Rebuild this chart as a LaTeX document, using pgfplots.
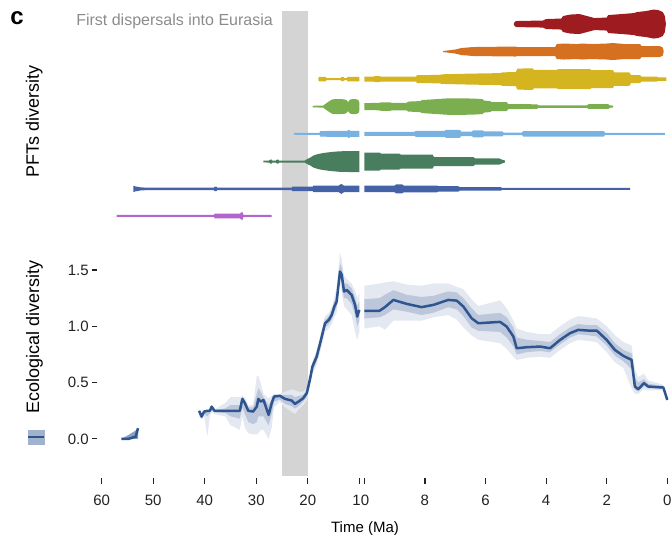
\documentclass[border=0pt]{standalone}
\usepackage{fontspec}
\setmainfont{Liberation Sans}
\usepackage{pgfplots}
\pgfplotsset{compat=1.18}
\usepackage{pgfplotstable}
\usepgfplotslibrary{fillbetween}

\definecolor{cRD}{HTML}{9E1C1F}
\definecolor{cOR}{HTML}{D4701F}
\definecolor{cYE}{HTML}{D4B520}
\definecolor{cLG}{HTML}{7BAE4E}
\definecolor{cLB}{HTML}{79B2E0}
\definecolor{cDG}{HTML}{487D5E}
\definecolor{cBL}{HTML}{4561A8}
\definecolor{cPU}{HTML}{B066CC}
\definecolor{band1}{HTML}{E3E8F1}
\definecolor{band2}{HTML}{BCC7DC}
\definecolor{ecol}{HTML}{2E5590}
\definecolor{tickc}{HTML}{222222}
\definecolor{grayband}{HTML}{D4D4D4}
\definecolor{annot}{HTML}{8C8C8C}

% lane centres (y units) and px -> y scale
\def\k{0.00888}
\def\RD{3.684}
\def\OR{3.440}
\def\YE{3.195}
\def\LG{2.951}
\def\LB{2.709}
\def\DG{2.463}
\def\BL{2.220}
\def\PU{1.980}

% ---- PFT lanes: time, half width ----
\pgfplotstableread{
t w
17.96 0.8
17.8 2.2
16.5 2.2
16.4 1.0
13.6 1.0
13.5 2.0
13.0 2.0
12.9 1.0
12.4 1.0
12.3 2.3
10.0 2.3
}\yeL
\pgfplotstableread{
t w
19.04 0.8
17.0 1.0
16.5 3.0
15.8 5.5
15.2 7.3
14.0 7.5
13.0 7.3
12.5 6.5
12.15 4.5
11.8 7.0
11.2 7.6
10.5 7.3
10.1 6.0
10.0 4.0
}\lgL
\pgfplotstableread{
t w
22.7 0.9
17.7 1.0
17.6 2.7
16.4 2.7
16.3 3.0
12.3 3.0
12.2 4.0
11.9 4.0
11.8 3.0
10.0 3.0
}\lbL
\pgfplotstableread{
t w
28.6 0.9
27.5 1.0
27.3 2.0
27.0 2.0
26.9 1.0
26.2 1.0
26.0 2.0
25.7 2.0
25.6 1.0
20.6 1.0
20.3 2.0
19.5 4.0
18.9 6.0
18.0 7.5
17.0 8.5
15.5 9.5
14.0 10.2
12.0 10.5
10.0 10.5
}\dgL
\pgfplotstableread{
t w
53.86 3.2
53.5 2.5
52.5 1.6
51.3 1.2
38.2 1.2
38.1 2.2
37.7 2.2
37.6 1.2
23.1 1.2
23.0 2.3
19.0 2.3
18.9 3.3
14.0 3.3
13.5 5.0
13.0 3.3
10.0 3.3
}\blL
\pgfplotstableread{
t w
57.1 1.0
38.2 1.0
38.1 2.4
33.1 2.4
33.0 3.6
32.6 3.6
32.5 1.0
27.0 1.0
}\puL
\pgfplotstableread{
t w
5.06 1.0
5.0 3.0
4.5 3.3
4.1 3.5
4.0 5.0
3.5 5.5
3.44 8.0
3.2 9.5
2.9 10.0
2.65 8.0
2.4 6.0
2.0 6.5
1.95 9.0
1.5 10.0
1.1 11.0
1.0 12.0
0.7 13.0
0.45 14.5
0.3 14.0
0.15 12.0
0.08 8.0
0.05 1.0
}\rdR
\pgfplotstableread{
t w
7.40 0.5
7.0 2.0
6.8 3.5
6.4 4.5
5.0 5.0
4.95 4.5
3.7 4.5
3.65 7.5
3.4 8.0
3.0 7.5
2.8 8.0
2.5 7.5
2.0 8.0
1.8 8.5
1.4 7.5
0.9 7.5
0.85 5.5
0.25 5.5
0.15 4.0
0.12 0.5
}\orR
\pgfplotstableread{
t w
10.0 2.5
9.7 2.5
9.65 3.0
9.5 3.0
9.45 2.4
8.3 2.4
8.25 4.0
7.5 4.2
7.45 4.8
6.5 5.5
5.5 6.0
5.45 6.8
5.0 7.0
4.95 10.5
4.45 10.8
4.4 9.2
3.65 9.2
3.6 10.0
2.55 10.0
2.5 9.0
1.8 9.0
1.75 6.7
1.25 6.7
1.2 4.0
0.9 4.0
0.85 2.5
0.35 2.5
0.3 1.8
0.03 1.8
}\yeR
\pgfplotstableread{
t w
10.0 3.5
9.5 3.7
9.45 4.3
9.15 4.3
9.1 3.8
8.6 3.8
8.55 5.0
8.15 5.5
8.1 6.5
7.6 7.5
7.2 8.3
6.8 8.3
6.4 8.0
6.1 7.5
6.05 6.0
5.85 5.5
5.8 4.5
5.3 4.5
5.25 2.5
4.3 2.3
4.25 1.2
2.65 1.2
2.6 2.4
1.95 2.4
1.9 1.2
1.79 1.0
}\lgR
\pgfplotstableread{
t w
10.0 2.0
8.35 2.0
8.3 3.0
7.35 3.0
7.3 4.0
6.85 4.0
6.8 2.3
6.45 2.3
6.4 3.5
6.1 3.5
6.05 2.5
5.45 2.5
5.4 1.2
4.8 1.2
4.75 2.8
2.1 2.8
2.05 1.0
0.08 1.0
}\lbR
\pgfplotstableread{
t w
10.0 9.0
9.5 9.0
9.45 8.0
8.85 8.0
8.8 7.0
7.75 7.0
7.7 4.5
6.4 4.5
6.35 3.2
5.55 3.2
5.45 1.8
5.36 1.0
}\dgR
\pgfplotstableread{
t w
10.0 3.3
9.0 3.3
8.95 4.5
8.75 4.5
8.7 3.4
7.6 3.4
7.55 2.7
6.9 2.7
6.85 1.8
5.5 1.8
5.45 1.0
1.23 1.0
}\blR

% ---- ecological diversity: time, value, outer band, inner band ----
\pgfplotstableread{
t v ol oh il ih
56.2 0.00 0.00 0.00 0.00 0.00
54.8 0.00 0.00 0.035 0.00 0.03
53.4 0.02 0.00 0.075 0.00 0.07
52.95 0.095 0.00 0.095 0.00 0.095
}\ecoA
\pgfplotstableread{
t v ol oh il ih
41.1 0.249 0.20 0.26 0.22 0.25
40.6 0.198 0.17 0.24 0.19 0.22
40.1 0.243 0.20 0.25 0.22 0.245
39.5 0.249 0.02 0.26 0.20 0.25
39.0 0.249 0.20 0.27 0.23 0.26
38.65 0.287 0.24 0.29 0.26 0.29
38.1 0.249 0.22 0.26 0.24 0.255
36.0 0.249 0.20 0.32 0.23 0.27
35.0 0.249 0.12 0.37 0.20 0.30
33.2 0.249 0.08 0.37 0.18 0.30
32.7 0.355 0.20 0.38 0.28 0.37
32.2 0.317 0.10 0.37 0.22 0.34
31.55 0.249 0.05 0.30 0.15 0.28
30.6 0.243 0.04 0.30 0.13 0.28
29.9 0.287 0.04 0.56 0.15 0.40
29.6 0.355 0.05 0.56 0.20 0.45
29.15 0.331 0.08 0.50 0.20 0.42
28.6 0.346 0.08 0.40 0.20 0.37
27.6 0.213 0.00 0.36 0.12 0.30
27.0 0.317 0.10 0.38 0.22 0.35
26.55 0.376 0.28 0.40 0.33 0.39
25.4 0.382 0.33 0.40 0.35 0.39
24.4 0.355 0.28 0.42 0.31 0.39
23.1 0.340 0.24 0.44 0.29 0.39
22.5 0.311 0.22 0.43 0.27 0.37
21.8 0.331 0.26 0.42 0.29 0.38
20.9 0.361 0.30 0.42 0.33 0.39
20.2 0.406 0.34 0.45 0.37 0.43
19.6 0.524 0.46 0.57 0.49 0.55
19.1 0.642 0.57 0.69 0.60 0.67
18.27 0.731 0.66 0.79 0.69 0.76
17.6 0.850 0.77 0.91 0.81 0.88
16.65 1.027 0.95 1.09 0.99 1.06
15.9 1.057 0.98 1.12 1.02 1.09
15.35 1.101 1.02 1.17 1.06 1.14
14.85 1.175 1.08 1.25 1.13 1.22
14.4 1.219 1.12 1.35 1.17 1.28
13.75 1.486 1.38 1.65 1.43 1.56
13.4 1.456 1.30 1.60 1.38 1.52
12.97 1.308 1.18 1.45 1.25 1.38
12.45 1.323 1.15 1.42 1.25 1.38
11.5 1.279 1.10 1.38 1.20 1.34
10.83 1.19 0.95 1.32 1.10 1.26
10.4 1.086 0.88 1.25 1.00 1.18
10.0 1.146 0.95 1.30 1.05 1.22
}\ecoB
\pgfplotstableread{
t v ol oh il ih
10.0 1.137 0.98 1.36 1.07 1.24
9.5 1.137 1.00 1.38 1.08 1.25
9.32 1.17 0.97 1.39 1.10 1.28
9.04 1.234 1.05 1.40 1.15 1.32
8.6 1.199 1.05 1.37 1.13 1.28
8.11 1.17 1.05 1.36 1.10 1.26
7.72 1.19 1.08 1.38 1.12 1.27
7.23 1.234 1.10 1.38 1.17 1.31
6.95 1.228 1.06 1.35 1.15 1.30
6.73 1.175 0.99 1.33 1.09 1.25
6.46 1.072 0.92 1.24 0.99 1.16
6.24 1.027 0.88 1.18 0.96 1.10
5.52 1.039 0.85 1.23 0.95 1.12
5.30 0.997 0.80 1.16 0.90 1.08
5.08 0.909 0.73 1.05 0.82 0.99
4.97 0.805 0.70 0.98 0.75 0.90
4.64 0.814 0.72 0.95 0.77 0.88
4.20 0.82 0.73 0.93 0.78 0.87
3.87 0.805 0.72 0.93 0.77 0.86
3.54 0.879 0.79 1.00 0.84 0.93
3.21 0.939 0.85 1.06 0.90 0.99
2.94 0.968 0.88 1.09 0.93 1.02
2.61 0.962 0.87 1.08 0.92 1.01
2.33 0.962 0.86 1.07 0.91 1.01
2.0 0.879 0.77 1.00 0.83 0.94
1.73 0.79 0.68 0.92 0.74 0.85
1.45 0.737 0.63 0.86 0.69 0.79
1.18 0.702 0.45 0.83 0.62 0.76
1.07 0.465 0.40 0.62 0.44 0.55
0.96 0.441 0.40 0.55 0.42 0.50
0.77 0.495 0.44 0.58 0.47 0.53
0.63 0.465 0.43 0.52 0.45 0.49
0.13 0.456 0.43 0.48 0.445 0.47
0.0 0.346 0.34 0.35 0.345 0.347
}\ecoC

\newcommand\lane[4]{%
  \addplot[name path=#4t, draw=none, forget plot] table[x=t, y expr=#2+\k*\thisrow{w}] {#1};
  \addplot[name path=#4b, draw=none, forget plot] table[x=t, y expr=#2-\k*\thisrow{w}] {#1};
  \addplot[fill=#3, draw=none, forget plot] fill between[of=#4t and #4b];
}
\newcommand\band[2]{%
  \addplot[name path=#2ol, draw=none, forget plot] table[x=t, y=ol] {#1};
  \addplot[name path=#2oh, draw=none, forget plot] table[x=t, y=oh] {#1};
  \addplot[fill=band1, draw=none, forget plot] fill between[of=#2ol and #2oh];
  \addplot[name path=#2il, draw=none, forget plot] table[x=t, y=il] {#1};
  \addplot[name path=#2ih, draw=none, forget plot] table[x=t, y=ih] {#1};
  \addplot[fill=band2, draw=none, forget plot] fill between[of=#2il and #2ih];
  \addplot[ecol, line width=2.5pt, line join=round, forget plot] table[x=t, y=v] {#1};
}

\pgfplotsset{base/.style={
  scale only axis, anchor=south west,
  height=464.6pt, ymin=-0.326, ymax=3.80,
  x dir=reverse, enlargelimits=false, clip=false, no markers,
  axis line style={draw=none},
  tick align=outside, major tick length=5.5pt,
  tick style={color=tickc, line width=1.2pt},
  xtick style={yshift=-2.7pt},
  ytick style={xshift=-4.5pt},
  xtick pos=bottom, ytick pos=left,
  minor tick num=0,
  ticklabel style={font=\fontsize{15}{18}\selectfont, color=tickc},
  xticklabel style={yshift=-10.5pt},
  yticklabel style={xshift=-4pt},
}}

\begin{document}
\begin{tikzpicture}

\begin{axis}[base, at={(101.7pt,59.4pt)}, width=257.6pt,
  xmin=10, xmax=60,
  xtick={60,50,40,30,20,10}, xticklabels={60,50,40,30,20,{}},
  ytick={0,0.5,1,1.5}, yticklabels={0.0,0.5,1.0,1.5},
  legend style={at={(-0.29,0.0831)}, anchor=west, draw=none, fill=none,
    inner sep=0pt, nodes={inner sep=0pt}},
]
  % grey band 25-20 Ma, drawn as a fill between so it sits below the lanes
  \addplot[name path=g1, draw=none, forget plot] coordinates {(25,-0.326) (20,-0.326)};
  \addplot[name path=g2, draw=none, forget plot] coordinates {(25,3.80) (20,3.80)};
  \addplot[fill=grayband, draw=none, forget plot] fill between[of=g1 and g2];
  \lane{\yeL}{\YE}{cYE}{yel}
  \lane{\lgL}{\LG}{cLG}{lgl}
  \lane{\lbL}{\LB}{cLB}{lbl}
  \lane{\dgL}{\DG}{cDG}{dgl}
  \lane{\blL}{\BL}{cBL}{bll}
  \lane{\puL}{\PU}{cPU}{pul}
  \addplot[name path=ea1, draw=none, forget plot] table[x=t, y=ol] {\ecoA};
  \addplot[name path=ea2, draw=none, forget plot] table[x=t, y=oh] {\ecoA};
  \addplot[fill=ecol!55, draw=none, forget plot] fill between[of=ea1 and ea2];
  \addplot[ecol, line width=2.5pt, forget plot] table[x=t, y=v] {\ecoA};
  \band{\ecoB}{eb}
  \addlegendimage{legend image code/.code={
    \fill[ecol!45] (0pt,-7pt) rectangle (16pt,7pt);
    \draw[ecol, line width=2.5pt] (0pt,0pt) -- (16pt,0pt);}}
  \addlegendentry{}
\end{axis}

\begin{axis}[base, at={(364.3pt,59.4pt)}, width=303pt,
  xmin=0, xmax=10,
  xtick={10,8,6,4,2,0}, xticklabels={10\kern7pt,8,6,4,2,0},
  ytick=\empty,
]
  \lane{\rdR}{\RD}{cRD}{rdr}
  \lane{\orR}{\OR}{cOR}{orr}
  \lane{\yeR}{\YE}{cYE}{yer}
  \lane{\lgR}{\LG}{cLG}{lgr}
  \lane{\lbR}{\LB}{cLB}{lbr}
  \lane{\dgR}{\DG}{cDG}{dgr}
  \lane{\blR}{\BL}{cBL}{blr}
  \band{\ecoC}{ec}
\end{axis}

\node[font=\fontsize{24}{28}\bfseries\selectfont] at (17pt,516.5pt) {c};
\node[font=\fontsize{16}{19}\selectfont, text=annot, anchor=base east, inner sep=0pt]
  at (273pt,509.5pt) {First dispersals into Eurasia};
\node[rotate=90, font=\fontsize{18}{21}\selectfont, inner sep=0pt] at (34.3pt,413.5pt) {PFTs diversity};
\node[rotate=90, font=\fontsize{18}{21}\selectfont, inner sep=0pt] at (34.5pt,198pt) {Ecological diversity};
\node[font=\fontsize{15}{18}\selectfont, inner sep=0pt] at (365pt,6.7pt) {Time (Ma)};

\pgfresetboundingbox
\path[use as bounding box] (0pt,0pt) rectangle (672pt,535pt);
\end{tikzpicture}
\end{document}
